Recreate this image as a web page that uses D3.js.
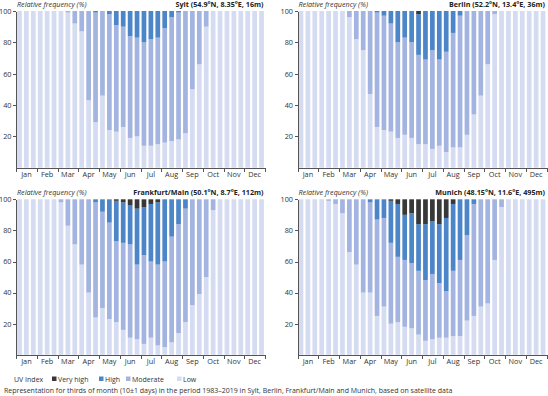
<!DOCTYPE html>
<html>
<head>
<meta charset="utf-8">
<script src="https://cdn.jsdelivr.net/npm/d3@7"></script>
<style>
  body { margin: 0; background: #fff; }
  svg { display: block; font-family: "Open Sans", sans-serif; }
  .axis path, .axis line { stroke: #555; shape-rendering: crispEdges; }
  .axis text { fill: #333; font-size: 7.3px; font-family: "Open Sans", sans-serif; }
</style>
</head>
<body>
<div id="chart"></div>
<script>
// thirds of month, 36 bars per station
const months = ["Jan", "Feb", "Mar", "Apr", "May", "Jun", "Jul", "Aug", "Sep", "Oct", "Nov", "Dec"];
const yTicks = [20, 40, 60, 80, 100];
const categories = ["Very high", "High", "Moderate", "Low"];

const titles = ["Sylt (54.9°N, 8.35°E, 16m)", "Berlin (52.2°N, 13.4°E, 36m)",
  "Frankfurt/Main (50.1°N, 8.7°E, 112m)", "Munich (48.15°N, 11.6°E, 495m)"];

const syltLow      = [100,100,100,100,100,100, 100,99,92, 87,43,29, 46,24,23, 26,19,20, 14,14,15, 16,17,18, 22,50,66, 90,100,100, 100,100,100,100,100,100];
const syltModerate = [0,0,0,0,0,0, 0,1,8, 13,57,70, 54,74,68, 64,65,63, 66,68,68, 73,79,81, 78,50,34, 10,0,0, 0,0,0,0,0,0];
const syltHigh     = [0,0,0,0,0,0, 0,0,0, 0,0,1, 0,2,9, 10,16,17, 20,18,17, 11,4,1, 0,0,0, 0,0,0, 0,0,0,0,0,0];
const syltVeryHigh = [0,0,0,0,0,0, 0,0,0, 0,0,0, 0,0,0, 0,0,0, 0,0,0, 0,0,0, 0,0,0, 0,0,0, 0,0,0,0,0,0];

const berlinLow      = [100,100,100,100,100,100, 100,96,82, 75,47,26, 24,23,19, 21,19,15, 15,12,14, 10,13,13, 21,34,46, 66,98,100, 100,100,100,100,100,100];
const berlinModerate = [0,0,0,0,0,0, 0,4,18, 25,53,73, 73,69,61, 62,61,57, 54,63,55, 64,73,84, 79,66,54, 34,2,0, 0,0,0,0,0,0];
const berlinHigh     = [0,0,0,0,0,0, 0,0,0, 0,0,1, 3,8,20, 17,20,26, 31,25,31, 26,14,3, 0,0,0, 0,0,0, 0,0,0,0,0,0];
const berlinVeryHigh = [0,0,0,0,0,0, 0,0,0, 0,0,0, 0,0,0, 0,0,2, 0,0,0, 0,0,0, 0,0,0, 0,0,0, 0,0,0,0,0,0];

const frankfurtLow      = [100,100,100,100,100,100, 98,83,71, 58,40,24, 30,23,21, 16,11,10, 7,11,6, 5,8,14, 21,32,39, 50,93,100, 100,100,100,100,100,100];
const frankfurtModerate = [0,0,0,0,0,0, 2,17,29, 42,60,74, 62,62,52, 56,60,48, 57,49,52, 55,68,70, 73,68,61, 50,7,0, 0,0,0,0,0,0];
const frankfurtHigh     = [0,0,0,0,0,0, 0,0,0, 0,0,2, 8,15,26, 26,25,36, 31,37,40, 40,24,16, 6,0,0, 0,0,0, 0,0,0,0,0,0];
const frankfurtVeryHigh = [0,0,0,0,0,0, 0,0,0, 0,0,0, 0,0,1, 2,4,6, 5,3,2, 0,0,0, 0,0,0, 0,0,0, 0,0,0,0,0,0];

const munichLow      = [100,100,100,100,99,97, 91,66,58, 40,40,25, 31,20,21, 18,17,13, 9,10,11, 11,12,12, 22,25,31, 33,61,95, 100,100,100,100,100,100];
const munichModerate = [0,0,0,0,1,3, 9,34,42, 60,58,62, 57,52,42, 43,42,41, 39,42,35, 30,42,49, 55,72,69, 67,39,5, 0,0,0,0,0,0];
const munichHigh     = [0,0,0,0,0,0, 0,0,0, 0,2,13, 12,27,34, 29,32,30, 36,34,38, 47,43,39, 23,3,0, 0,0,0, 0,0,0,0,0,0];
const munichVeryHigh = [0,0,0,0,0,0, 0,0,0, 0,0,0, 0,1,3, 10,9,16, 16,14,16, 12,3,0, 0,0,0, 0,0,0, 0,0,0,0,0,0];

const colors = { "Low": "#d5dcf1", "Moderate": "#a3b4e0", "High": "#4c86c8", "Very high": "#383838" };

const width = 548, height = 396;
const panelW = 249;

const stations = [
  { title: titles[0], low: syltLow, moderate: syltModerate, high: syltHigh, veryHigh: syltVeryHigh, left: 16, top: 11, bottom: 167.7 },
  { title: titles[1], low: berlinLow, moderate: berlinModerate, high: berlinHigh, veryHigh: berlinVeryHigh, left: 297.5, top: 11, bottom: 167.7 },
  { title: titles[2], low: frankfurtLow, moderate: frankfurtModerate, high: frankfurtHigh, veryHigh: frankfurtVeryHigh, left: 16, top: 199.3, bottom: 354.8 },
  { title: titles[3], low: munichLow, moderate: munichModerate, high: munichHigh, veryHigh: munichVeryHigh, left: 297.5, top: 199.3, bottom: 354.8 }
];

const stack = d3.stack().keys(["Low", "Moderate", "High", "Very high"]);

const svg = d3.select("#chart").append("svg")
  .attr("width", width).attr("height", height);

stations.forEach(st => {
  let rows = d3.range(36).map(i => ({
    i: i, "Low": st.low[i], "Moderate": st.moderate[i], "High": st.high[i], "Very high": st.veryHigh[i]
  }));
  let series = stack(rows);

  let x = d3.scaleBand().domain(d3.range(36))
    .range([st.left, st.left + panelW]).paddingInner(0.32).paddingOuter(0.16);
  let xm = d3.scaleLinear().domain([0, 12]).range([st.left, st.left + panelW]);
  let xMonth = d3.scaleBand().domain(months).range([st.left, st.left + panelW]);
  let y = d3.scaleLinear().domain([0, 100]).range([st.bottom, st.top]);

  let g = svg.append("g");

  g.selectAll("g.series")
    .data(series)
    .enter().append("g").attr("class", "series")
      .attr("fill", d => colors[d.key])
    .selectAll("rect")
    .data(d => d)
    .enter().append("rect")
      .attr("x", d => x(d.data.i))
      .attr("width", x.bandwidth())
      .attr("y", d => y(d[1]))
      .attr("height", d => y(d[0]) - y(d[1]));

  // y axis
  g.append("g")
    .attr("class", "axis")
    .attr("transform", `translate(${st.left},0)`)
    .call(d3.axisLeft(y).tickValues(yTicks).tickSize(3).tickSizeOuter(0).tickPadding(1.5));

  // month boundaries
  g.append("g")
    .attr("class", "axis")
    .attr("transform", `translate(0,${st.bottom})`)
    .call(d3.axisBottom(xm).tickValues(d3.range(13)).tickFormat("").tickSize(4).tickSizeOuter(0));

  // month names
  let ml = g.append("g")
    .attr("class", "axis")
    .attr("transform", `translate(0,${st.bottom})`)
    .call(d3.axisBottom(xMonth).tickSize(0).tickPadding(4.5));
  ml.select(".domain").remove();

  g.append("text")
    .attr("x", st.left + 1)
    .attr("y", st.top - 4)
    .attr("font-size", 7.2)
    .attr("font-style", "italic")
    .attr("fill", "#333")
    .text("Relative frequency (%)");

  g.append("text")
    .attr("x", st.left + panelW - 1.5)
    .attr("y", st.top - 4)
    .attr("text-anchor", "end")
    .attr("font-size", 7.2)
    .attr("font-weight", "bold")
    .attr("fill", "#222")
    .text(st.title);
});

// legend
let legend = svg.append("g").attr("transform", "translate(0,381.5)");
legend.append("text").attr("x", 14).attr("y", 0)
  .attr("font-size", 7).attr("fill", "#333").text("UV Index");

let legendX = [52, 99, 126, 177];
let item = legend.selectAll("g.item")
  .data(categories)
  .enter().append("g").attr("class", "item")
  .attr("transform", (d, i) => `translate(${legendX[i]},0)`);
item.append("rect")
  .attr("x", 0).attr("y", -5).attr("width", 4.5).attr("height", 4.5)
  .attr("fill", d => colors[d]);
item.append("text")
  .attr("x", 6).attr("y", 0)
  .attr("font-size", 7).attr("fill", "#333")
  .text(d => d);

svg.append("text")
  .attr("x", 4).attr("y", 392.5)
  .attr("font-size", 7).attr("fill", "#333")
  .text("Representation for thirds of month (10±1 days) in the period 1983–2019 in Sylt, Berlin, Frankfurt/Main and Munich, based on satellite data");
</script>
</body>
</html>
